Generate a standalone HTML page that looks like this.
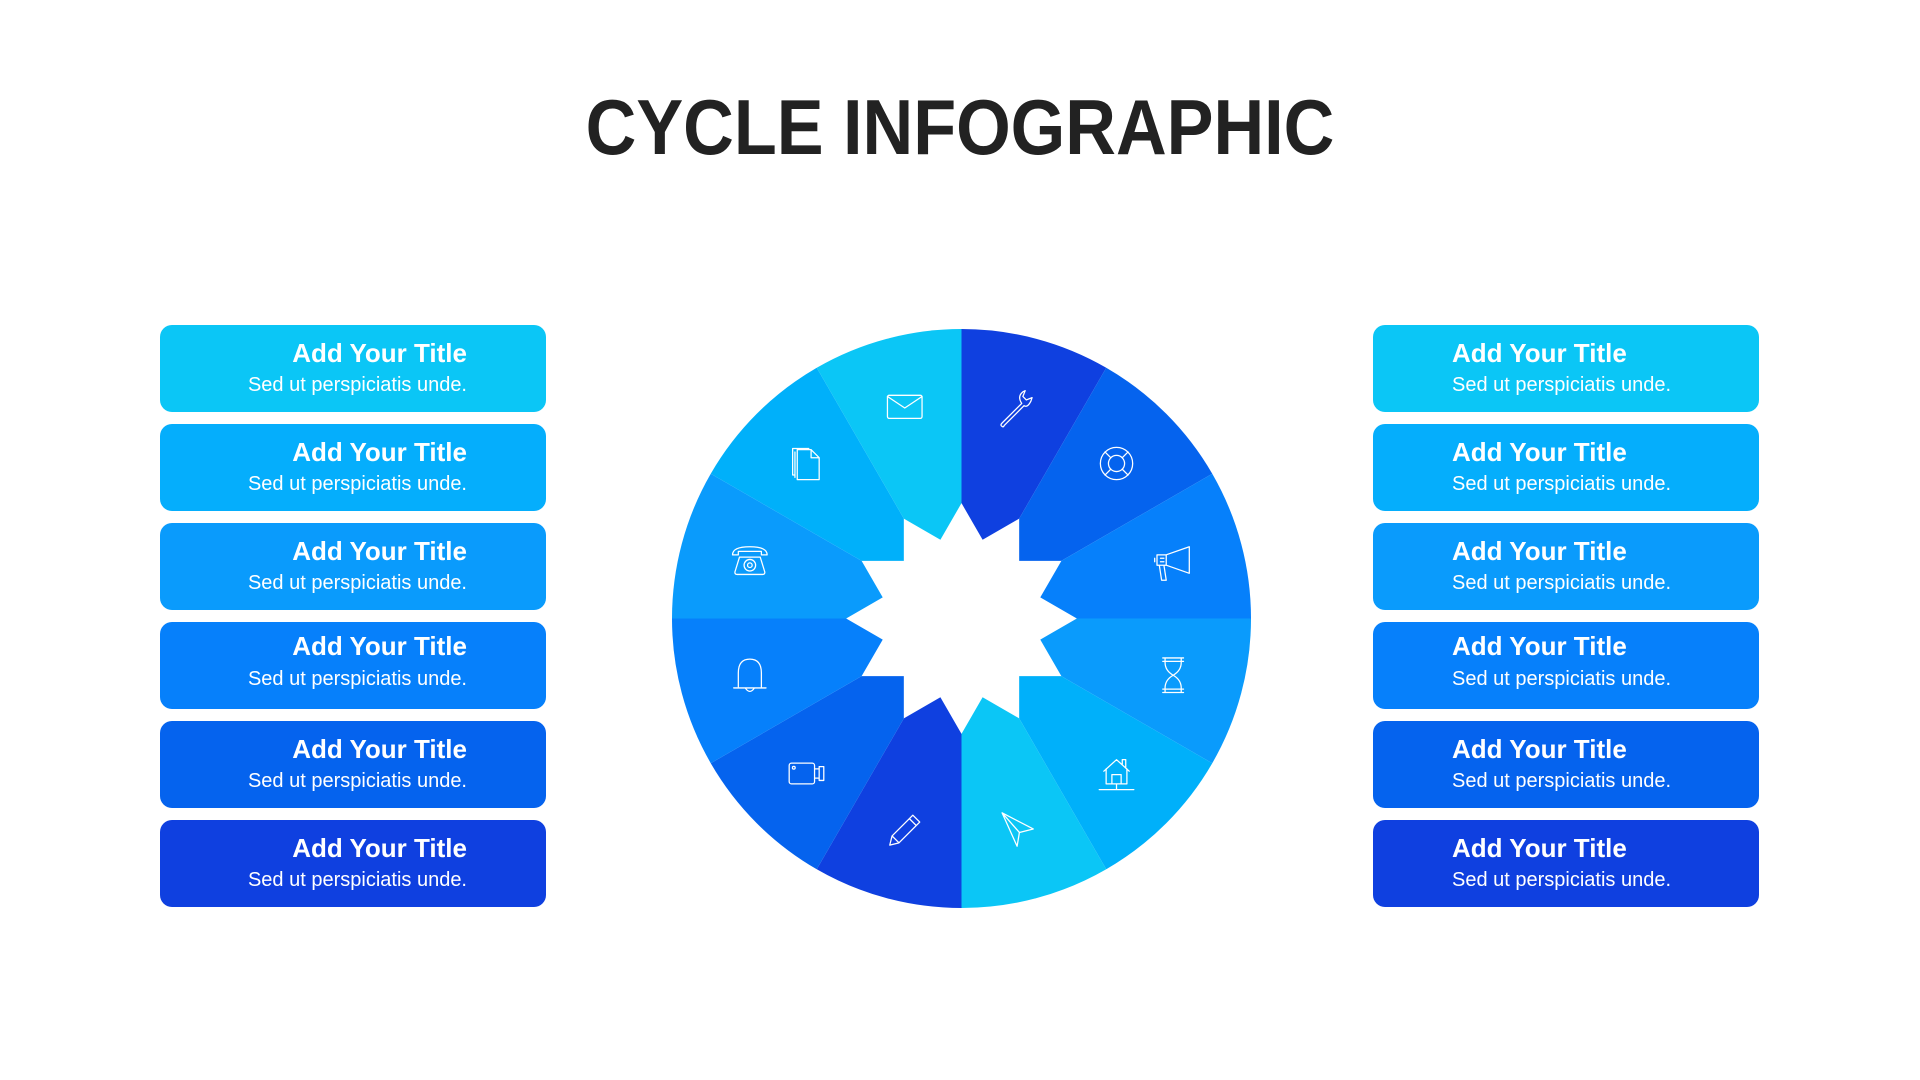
<!DOCTYPE html>
<html><head><meta charset="utf-8"><style>
html,body{margin:0;padding:0;background:#fff;}
svg{display:block}
text{font-family:"Liberation Sans",Arial,sans-serif;}
</style></head><body>
<svg width="1920" height="1080" viewBox="0 0 1920 1080" xmlns="http://www.w3.org/2000/svg">
<text x="960" y="154" text-anchor="middle" font-size="78" font-weight="bold" fill="#222" transform="translate(960 0) scale(0.9 1) translate(-960 0)">CYCLE INFOGRAPHIC</text>

<g>
<rect x="160" y="325" width="386" height="87" rx="12" fill="#0bc6f6"/>
<rect x="160" y="424" width="386" height="87" rx="12" fill="#05aefc"/>
<rect x="160" y="523" width="386" height="87" rx="12" fill="#0a9bfc"/>
<rect x="160" y="622" width="386" height="87" rx="12" fill="#0680fb"/>
<rect x="160" y="721" width="386" height="87" rx="12" fill="#0563ee"/>
<rect x="160" y="820" width="386" height="87" rx="12" fill="#0f40e0"/>
<rect x="1373" y="325" width="386" height="87" rx="12" fill="#0bc6f6"/>
<rect x="1373" y="424" width="386" height="87" rx="12" fill="#05aefc"/>
<rect x="1373" y="523" width="386" height="87" rx="12" fill="#0a9bfc"/>
<rect x="1373" y="622" width="386" height="87" rx="12" fill="#0680fb"/>
<rect x="1373" y="721" width="386" height="87" rx="12" fill="#0563ee"/>
<rect x="1373" y="820" width="386" height="87" rx="12" fill="#0f40e0"/>
</g>
<g fill="#fff" text-anchor="end">
<text x="467" y="362" font-size="26" font-weight="bold">Add Your Title</text><text x="467" y="391" font-size="20">Sed ut perspiciatis unde.</text>
<text x="467" y="461" font-size="26" font-weight="bold">Add Your Title</text><text x="467" y="490" font-size="20">Sed ut perspiciatis unde.</text>
<text x="467" y="560" font-size="26" font-weight="bold">Add Your Title</text><text x="467" y="589" font-size="20">Sed ut perspiciatis unde.</text>
<text x="467" y="655" font-size="26" font-weight="bold">Add Your Title</text><text x="467" y="685" font-size="20">Sed ut perspiciatis unde.</text>
<text x="467" y="758" font-size="26" font-weight="bold">Add Your Title</text><text x="467" y="787" font-size="20">Sed ut perspiciatis unde.</text>
<text x="467" y="857" font-size="26" font-weight="bold">Add Your Title</text><text x="467" y="886" font-size="20">Sed ut perspiciatis unde.</text>
</g>
<g fill="#fff" text-anchor="start">
<text x="1452" y="362" font-size="26" font-weight="bold">Add Your Title</text><text x="1452" y="391" font-size="20">Sed ut perspiciatis unde.</text>
<text x="1452" y="461" font-size="26" font-weight="bold">Add Your Title</text><text x="1452" y="490" font-size="20">Sed ut perspiciatis unde.</text>
<text x="1452" y="560" font-size="26" font-weight="bold">Add Your Title</text><text x="1452" y="589" font-size="20">Sed ut perspiciatis unde.</text>
<text x="1452" y="655" font-size="26" font-weight="bold">Add Your Title</text><text x="1452" y="685" font-size="20">Sed ut perspiciatis unde.</text>
<text x="1452" y="758" font-size="26" font-weight="bold">Add Your Title</text><text x="1452" y="787" font-size="20">Sed ut perspiciatis unde.</text>
<text x="1452" y="857" font-size="26" font-weight="bold">Add Your Title</text><text x="1452" y="886" font-size="20">Sed ut perspiciatis unde.</text>
</g>

<g transform="translate(961.5 618.5) scale(1.1534) translate(-921.5 -577.5)">
<g>
<path d="M921.5 577.5 L921.5 326.5 A251 251 0 0 1 1047 360.1 Z" fill="#0f40e0"/>
<path d="M921.5 577.5 L1047 360.1 A251 251 0 0 1 1138.9 452 Z" fill="#0563ee"/>
<path d="M921.5 577.5 L1138.9 452 A251 251 0 0 1 1172.5 577.5 Z" fill="#0680fb"/>
<path d="M921.5 577.5 L1172.5 577.5 A251 251 0 0 1 1138.9 703 Z" fill="#0a9bfc"/>
<path d="M921.5 577.5 L1138.9 703 A251 251 0 0 1 1047 794.9 Z" fill="#00b0fa"/>
<path d="M921.5 577.5 L1047 794.9 A251 251 0 0 1 921.5 828.5 Z" fill="#0bc6f6"/>
<path d="M921.5 577.5 L921.5 828.5 A251 251 0 0 1 796 794.9 Z" fill="#0f40e0"/>
<path d="M921.5 577.5 L796 794.9 A251 251 0 0 1 704.1 703 Z" fill="#0563ee"/>
<path d="M921.5 577.5 L704.1 703 A251 251 0 0 1 670.5 577.5 Z" fill="#0680fb"/>
<path d="M921.5 577.5 L670.5 577.5 A251 251 0 0 1 704.1 452 Z" fill="#0a9bfc"/>
<path d="M921.5 577.5 L704.1 452 A251 251 0 0 1 796 360.1 Z" fill="#00b0fa"/>
<path d="M921.5 577.5 L796 360.1 A251 251 0 0 1 921.5 326.5 Z" fill="#0bc6f6"/>
<polygon fill="#fff" points="921.5,477.5 939.8,509.2 971.5,490.9 971.5,527.5 1008.1,527.5 989.8,559.2 1021.5,577.5 989.8,595.8 1008.1,627.5 971.5,627.5 971.5,664.1 939.8,645.8 921.5,677.5 903.2,645.8 871.5,664.1 871.5,627.5 834.9,627.5 853.2,595.8 821.5,577.5 853.2,559.2 834.9,527.5 871.5,527.5 871.5,490.9 903.2,509.2"/>
</g>

<g fill="none" stroke="#fff" stroke-width="1.1" stroke-linejoin="round" stroke-linecap="round">
<g transform="translate(970.7 394)"><path d="M-14 14 L3 -3 M-12 16 L5 -1 M-14 14 Q-16 16 -14 17 Q-13 18 -12 16 M3 -3 Q-1 -9 4 -13 L6 -14 L4 -9 L7 -6 L12 -8 L11 -5 Q8 1 5 -1"/></g>
<g transform="translate(1055.9 443.1)"><circle r="14"/><circle r="7"/><path d="M-5 -5 L-10 -10 M5 -5 L10 -10 M-5 5 L-10 10 M5 5 L10 10"/></g>
<g transform="translate(1105 528.3)"><path d="M-6 -6 L14 -13 L14 10 L-6 3 Z M-14 -6 L-6 -6 L-6 3 L-14 3 Z M-12 3 L-10 16 L-6 16 L-8 3 M-11 -3 L-8 -3 M-11 0 L-8 0 M-16 -3 L-16 0"/></g>
<g transform="translate(1105 626.7)"><path d="M-9 -15 L9 -15 M-9 15 L9 15 M-7 -15 L-7 -11 Q-7 -4 0 0 Q7 -4 7 -11 L7 -15 M-7 15 L-7 11 Q-7 4 0 0 Q7 4 7 11 L7 15 M-9 -12 L9 -12 M-9 12 L9 12"/></g>
<g transform="translate(1055.9 711.9)"><path d="M-11 -2 L0 -12 L11 -2 M-9 -4 L-9 9 L9 9 L9 -4 M-4 9 L-4 1 L4 1 L4 9 M5 -8 L5 -12 L8 -12 L8 -5 M-15 14 L15 14 M0 9 L0 14"/></g>
<g transform="translate(970.7 761)"><path d="M-14 -15 L13 -1 L1 2 L-1 14 Z M-14 -15 L1 2"/></g>
<g transform="translate(872.3 761)"><path d="M-13 13 L-11 5 L7 -13 L13 -7 L-5 11 Z M-11 5 L-5 11 M4 -10 L10 -4"/></g>
<g transform="translate(787.1 711.9)"><rect x="-15" y="-9" width="22" height="18" rx="2"/><circle cx="-11" cy="-5" r="1.2"/><path d="M7 -4 L11 -4 L11 4 L7 4 M11 -6 L15 -6 L15 6 L11 6 Z"/></g>
<g transform="translate(738 626.7)"><path d="M-10 10 L-10 -2 Q-10 -14 0 -14 Q10 -14 10 -2 L10 10 M-14 11 L14 11 M-4 11 Q0 17 4 11"/></g>
<g transform="translate(738 528.3)"><path d="M-15 -6 Q-15 -13 0 -13 Q15 -13 15 -6 L10 -6 L10 -9 L-10 -9 L-10 -6 Z M-9 -4 L9 -4 L13 9 Q13 11 11 11 L-11 11 Q-13 11 -13 9 Z"/><circle cx="0" cy="3" r="5"/><circle cx="0" cy="3" r="2"/></g>
<g transform="translate(787.1 443.1)"><path d="M-8 -12 L4 -12 L11 -5 L11 14 L-8 14 Z M4 -12 L4 -5 L11 -5 M-10 -10 L-10 12 M-12 -13 L-12 10 L-10 10 M-12 -13 L2 -13"/></g>
<g transform="translate(872.3 394)"><rect x="-15" y="-10" width="30" height="20" rx="1.5"/><path d="M-15 -9 L0 1 L15 -9"/></g>
</g>
</g>
</svg>
</body></html>
